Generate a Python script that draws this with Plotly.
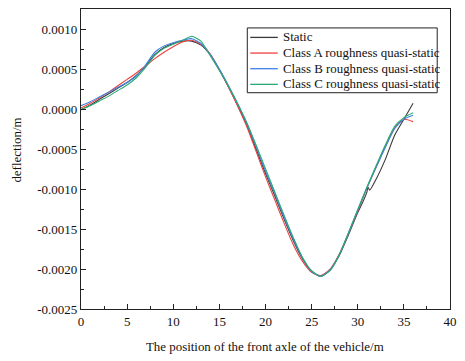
import plotly.graph_objects as go

# Front-axle position along the bridge (m)
position = [0, 1, 2, 3, 4, 5, 6, 7, 8, 9, 10, 11, 12, 13, 14, 15, 16, 17, 18,
            19, 20, 21, 22, 23, 24, 25, 26, 27, 28, 29, 30, 31, 32, 33, 34, 35, 36]

# Static deflection has a small jump near 31 m, so it gets its own x grid
static_pos = [0, 1, 2, 3, 4, 5, 6, 7, 8, 9, 10, 11, 12, 13, 14, 15, 16, 17, 18,
              19, 20, 21, 22, 23, 24, 25, 26, 27, 28, 29, 30, 30.5, 31, 31.1,
              31.3, 32, 33, 34, 35, 36]
static = [0.00000, 0.00006, 0.00013, 0.00020, 0.00027, 0.00034, 0.00043, 0.00055,
          0.00069, 0.00078, 0.00083, 0.00086, 0.00086, 0.00081, 0.00069, 0.00050,
          0.00028, 0.00005, -0.00020, -0.00050, -0.00080, -0.00108, -0.00137,
          -0.00164, -0.00187, -0.00203, -0.00209, -0.00201, -0.00183, -0.00157,
          -0.00129, -0.00117, -0.00103, -0.00097, -0.00101, -0.00087, -0.00062,
          -0.00032, -0.00012, 0.00008]

class_a = [0.00002, 0.00008, 0.00015, 0.00022, 0.00030, 0.00038, 0.00046, 0.00055,
           0.00064, 0.00072, 0.00079, 0.00085, 0.00087, 0.00082, 0.00070, 0.00050,
           0.00028, 0.00004, -0.00022, -0.00053, -0.00084, -0.00113, -0.00142,
           -0.00169, -0.00190, -0.00204, -0.00208, -0.00200, -0.00181, -0.00155,
           -0.00127, -0.00098, -0.00072, -0.00046, -0.00023, -0.00012, -0.00015]

class_b = [0.00005, 0.00010, 0.00016, 0.00022, 0.00028, 0.00034, 0.00042, 0.00056,
           0.00072, 0.00080, 0.00084, 0.00087, 0.00089, 0.00083, 0.00069, 0.00051,
           0.00030, 0.00007, -0.00018, -0.00047, -0.00077, -0.00105, -0.00134,
           -0.00162, -0.00186, -0.00203, -0.00209, -0.00201, -0.00182, -0.00155,
           -0.00126, -0.00098, -0.00072, -0.00047, -0.00024, -0.00012, -0.00007]

class_c = [0.00000, 0.00005, 0.00011, 0.00017, 0.00024, 0.00031, 0.00040, 0.00053,
           0.00068, 0.00077, 0.00082, 0.00087, 0.00092, 0.00086, 0.00068, 0.00049,
           0.00029, 0.00007, -0.00017, -0.00045, -0.00074, -0.00103, -0.00132,
           -0.00160, -0.00185, -0.00202, -0.00209, -0.00202, -0.00182, -0.00154,
           -0.00125, -0.00097, -0.00070, -0.00044, -0.00021, -0.00010, -0.00004]

series_names = ["Static",
                "Class A roughness quasi-static",
                "Class B roughness quasi-static",
                "Class C roughness quasi-static"]
series_colors = ["#3a3a3a", "#ee4040", "#3c82e6", "#2aaa72"]

x_ticks = [0, 5, 10, 15, 20, 25, 30, 35, 40]
y_ticks = [-0.0025, -0.0020, -0.0015, -0.0010, -0.0005, 0.0000, 0.0005, 0.0010]
y_tick_text = [f"{v:.4f}".replace("-0.0000", "0.0000") for v in y_ticks]

FONT = "Liberation Serif"
TEXT_SIZE = 12.9
W, H = 465, 361
M_L, M_R, M_T, M_B = 81, 9, 8, 52
PLOT_W = W - M_L - M_R
PLOT_H = H - M_T - M_B


def px_to_paper(px, py):
    """Convert page pixel position to paper coordinates of the plot area."""
    return (px - M_L) / PLOT_W, (H - M_B - py) / PLOT_H


fig = go.Figure()
for xs, ys, name, color in zip([static_pos, position, position, position],
                               [static, class_a, class_b, class_c],
                               series_names, series_colors):
    fig.add_trace(go.Scatter(x=xs, y=ys, mode="lines", name=name, showlegend=False,
                             line=dict(color=color, width=1.1, shape="spline",
                                       smoothing=0.6)))

axis_common = dict(showline=True, linecolor="#222", linewidth=1.2, mirror=True,
                   ticks="inside", ticklen=5, tickwidth=1.1, tickcolor="#222",
                   showgrid=False, zeroline=False,
                   tickfont=dict(family=FONT, size=13, color="#111"))

fig.update_xaxes(range=[0, 40], tickvals=x_ticks,
                 ticktext=[str(v) for v in x_ticks],
                 minor=dict(ticks="inside", ticklen=3, dtick=2.5, tick0=0,
                            tickcolor="#222", showgrid=False),
                 **axis_common)
fig.update_yaxes(range=[-0.0025, 0.0012625], tickvals=y_ticks, ticktext=y_tick_text,
                 minor=dict(ticks="inside", ticklen=3, dtick=0.00025, tick0=0,
                            tickcolor="#222", showgrid=False),
                 **axis_common)

# Compact boxed legend drawn inside the plot area
LEG_LEFT, LEG_RIGHT, LEG_TOP, LEG_BOTTOM = 250, 443, 27, 92
ROW_FIRST, ROW_PITCH = 36.5, 15.7
shapes, annotations = [], []
x0, y0 = px_to_paper(LEG_LEFT, LEG_BOTTOM)
x1, y1 = px_to_paper(LEG_RIGHT, LEG_TOP)
shapes.append(dict(type="rect", xref="paper", yref="paper", x0=x0, y0=y0, x1=x1, y1=y1,
                   line=dict(color="#222", width=1), fillcolor="white", layer="above"))
for i, (name, color) in enumerate(zip(series_names, series_colors)):
    row_y = ROW_FIRST + i * ROW_PITCH
    lx0, ly = px_to_paper(LEG_LEFT + 3, row_y)
    lx1, _ = px_to_paper(LEG_LEFT + 31, row_y)
    shapes.append(dict(type="line", xref="paper", yref="paper", x0=lx0, x1=lx1,
                       y0=ly, y1=ly, line=dict(color=color, width=1.3), layer="above"))
    tx, _ = px_to_paper(LEG_LEFT + 34, row_y)
    annotations.append(dict(text=name, x=tx, y=ly, xref="paper", yref="paper",
                            xanchor="left", yanchor="middle", showarrow=False,
                            font=dict(family=FONT, size=TEXT_SIZE, color="#111")))

tx, ty = px_to_paper(268, 347)
annotations.append(dict(text="The position of the front axle of the vehicle/m",
                        x=tx, y=ty, xref="paper", yref="paper",
                        xanchor="center", yanchor="middle", showarrow=False,
                        font=dict(family=FONT, size=TEXT_SIZE, color="#111")))
tx, ty = px_to_paper(15, 150)
annotations.append(dict(text="deflection/m", x=tx, y=ty, xref="paper", yref="paper",
                        xanchor="center", yanchor="middle", showarrow=False,
                        textangle=-90,
                        font=dict(family=FONT, size=TEXT_SIZE, color="#111")))

fig.update_layout(
    width=W, height=H,
    margin=dict(l=M_L, r=M_R, t=M_T, b=M_B),
    paper_bgcolor="white", plot_bgcolor="white",
    font=dict(family=FONT, size=12, color="#111"),
    showlegend=False,
    shapes=shapes,
    annotations=annotations,
)

fig.write_html("out.html")
